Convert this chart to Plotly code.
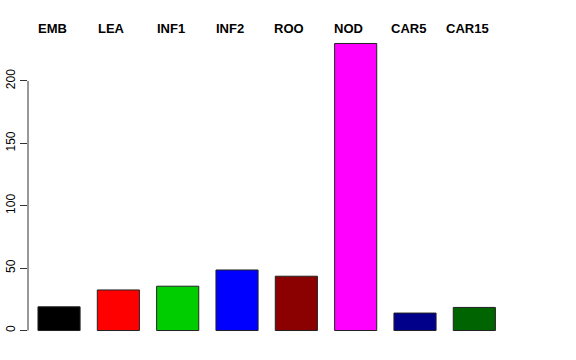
import plotly.graph_objects as go

categories = ["EMB", "LEA", "INF1", "INF2", "ROO", "NOD", "CAR5", "CAR15"]
values = [19, 32.5, 35.5, 48.5, 43.5, 230, 14, 18.5]
colors = ["#000000", "#FF0000", "#00CD00", "#0000FF", "#8B0000", "#FF00FF", "#00008B", "#006400"]
yticks = [0, 50, 100, 150, 200]

fig = go.Figure()
fig.add_trace(go.Bar(
    x=list(range(len(categories))), y=values,
    marker=dict(color=colors, line=dict(color="#222222", width=1)),
    width=0.71, showlegend=False, hoverinfo="skip",
))

for i, c in enumerate(categories):
    fig.add_annotation(x=i, y=1, xref="x", yref="paper", text="<b>%s</b>" % c,
                       showarrow=False, xanchor="center", yanchor="middle",
                       yshift=3.5, xshift=-7,
                       font=dict(family="Liberation Sans, Arial", size=13, color="black"))

# R-style axis line spanning only the tick range
fig.add_shape(type="line", xref="paper", yref="y", x0=0, x1=0,
              y0=yticks[0], y1=yticks[-1], line=dict(color="#333333", width=1))

fig.update_layout(
    width=576, height=360,
    margin=dict(l=28, r=72, t=31.5, b=17.5, autoexpand=False),
    plot_bgcolor="white", paper_bgcolor="white",
    xaxis=dict(range=[-0.523, 7.5], showticklabels=False, showgrid=False,
               zeroline=False, showline=False, ticks="", automargin=False),
    yaxis=dict(range=[-9.2, 239.2], tickvals=yticks, ticktext=[str(v) for v in yticks],
               ticks="outside", ticklen=7, tickcolor="#333333", showgrid=False,
               zeroline=False, showline=False, tickangle=-90, automargin=False,
               tickfont=dict(family="Liberation Sans, Arial", size=12, color="black")),
)

fig.write_html("out.html")
